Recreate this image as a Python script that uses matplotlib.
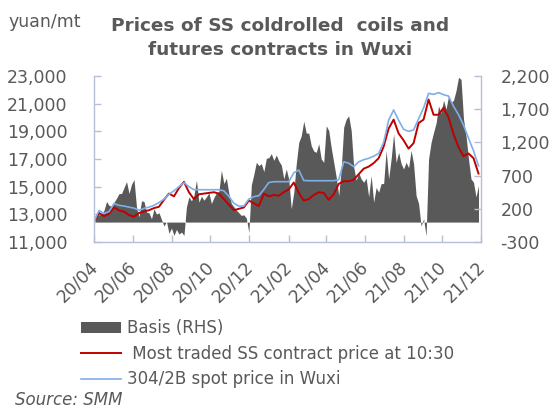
import matplotlib
matplotlib.use("Agg")
import matplotlib.pyplot as plt
import matplotlib.transforms as mtransforms
import pandas as pd

# readings taken from the reference chart
start_date = "2020-04-01"
end_date = "2021-11-27"

# prices, one reading every ~8 days (yuan/mt)
spot_price = [
    12500, 13280, 13060, 13200, 13780, 13650, 13600, 13520, 13450, 13300,
    13430, 13520, 13650, 13850, 14100, 14450, 14700, 15000, 15290, 15000,
    14780, 14780, 14780, 14780, 14780, 14780, 14700, 14300, 13800, 13600,
    13600, 14100, 14280, 14350, 14800, 15300, 15360, 15360, 15360, 15360,
    16000, 16200, 15450, 15430, 15430, 15430, 15430, 15430, 15430, 15500,
    16800, 16700, 16450, 16800, 16950, 17050, 17200, 17400, 18200, 19800,
    20550, 19800, 19150, 19000, 19100, 19900, 20700, 21750, 21670, 21800,
    21650, 21550, 20810, 20200, 19450, 18500, 17600, 16500,
]

futures_price = [
    12500, 13100, 12870, 13050, 13500, 13280, 13200, 12950, 12830, 13100,
    13200, 13300, 13450, 13550, 14050, 14500, 14300, 14900, 15350, 14600,
    14100, 14450, 14500, 14550, 14600, 14500, 14100, 13700, 13300, 13400,
    13500, 14000, 13800, 13600, 14500, 14300, 14400, 14350, 14600, 14800,
    15300, 14550, 14000, 14100, 14400, 14600, 14550, 14050, 14450, 15200,
    15400, 15400, 15500, 15900, 16300, 16450, 16700, 17060, 17900, 19200,
    19850, 18850, 18350, 17750, 18150, 19600, 19850, 21300, 20200, 20200,
    20700, 20000, 18800, 17850, 17200, 17400, 17060, 15950,
]

# basis, one reading every ~4 days (yuan/mt, RHS)
basis = [
    -50, 140, 110, 120, 180, 310, 250, 240, 300, 360,
    430, 430, 520, 610, 430, 570, 640, 220, 80, 320,
    310, 150, 140, 50, 200, 120, 140, 40, -60, 10,
    -170, -90, -200, -110, -180, -150, -200, 230, 380, 320,
    400, 630, 300, 390, 330, 380, 440, 280, 370, 440,
    460, 780, 580, 660, 430, 280, 230, 180, 140, 100,
    110, 60, -160, 560, 720, 900, 850, 880, 760, 960,
    970, 1030, 930, 1010, 920, 860, 650, 800, 640, 200,
    450, 880, 1200, 1300, 1520, 1340, 1340, 1150, 1070, 1050,
    1180, 950, 900, 1450, 1380, 1120, 900, 680, 400, 800,
    1430, 1550, 1600, 1380, 830, 630, 740, 650, 600, 660,
    380, 700, 300, 520, 450, 580, 580, 1080, 650, 950,
    1330, 900, 1050, 880, 800, 900, 820, 1080, 875, 400,
    280, -60, 50, -210, 950, 1200, 1350, 1490, 1750, 1640,
    1835, 1700, 1900, 1800, 1835, 1980, 2180, 2150, 1550, 1300,
    950, 650, 600, 380, 550,
]

tick_dates = ["2020-04-01", "2020-06-01", "2020-08-01", "2020-10-01",
              "2020-12-01", "2021-02-01", "2021-04-01", "2021-06-01",
              "2021-08-01", "2021-10-01", "2021-12-01"]
tick_labels = ["20/04", "20/06", "20/08", "20/10", "20/12", "21/02",
               "21/04", "21/06", "21/08", "21/10", "21/12"]

left_ticks = [11000, 13000, 15000, 17000, 19000, 21000, 23000]
right_ticks = [-300, 200, 700, 1200, 1700, 2200]

price_dates = pd.date_range(start_date, end_date, periods=len(spot_price))
basis_dates = pd.date_range(start_date, end_date, periods=len(basis))

text_grey = "#595959"
spine_col = "#B4C0D4"

fig = plt.figure(figsize=(5.6, 4.12), dpi=100)
rect = [0.168, 0.4126, 0.691, 0.4029]

# basis axes (behind) and price axes (front) share the same box
ax2 = fig.add_axes(rect)
ax = fig.add_axes(rect, sharex=ax2)
ax.patch.set_visible(False)

ax2.fill_between(basis_dates, 0, basis, color="#595959", linewidth=0,
                 label="Basis (RHS)")
ax.plot(price_dates, futures_price, color="#C00000", linewidth=1.4,
        label=" Most traded SS contract price at 10:30")
ax.plot(price_dates, spot_price, color="#7FAEE8", linewidth=1.2,
        label="304/2B spot price in Wuxi")

ax.set_ylim(11000, 23000)
ax.set_yticks(left_ticks)
ax.set_yticklabels([f"{v:,}" for v in left_ticks])

ax2.yaxis.tick_right()
ax2.set_ylim(-300, 2200)
ax2.set_yticks(right_ticks)
ax2.set_yticklabels([f"{v:,}" for v in right_ticks])

ax2.set_xlim(pd.Timestamp("2020-04-01"), pd.Timestamp("2021-12-01"))
ax2.set_xticks(pd.to_datetime(tick_dates))
ax2.tick_params(axis="x", labelbottom=False)
ax.tick_params(axis="x", bottom=False, labelbottom=False)

# date labels at 45 degrees, their end sitting just under each tick
lab_trans = mtransforms.blended_transform_factory(ax2.transData, ax2.transAxes)
lab_trans = lab_trans + mtransforms.ScaledTranslation(1 / 100, -22 / 100,
                                                      fig.dpi_scale_trans)
for d, lab in zip(pd.to_datetime(tick_dates), tick_labels):
    ax2.text(d, 0, lab, transform=lab_trans, rotation=45, rotation_mode="anchor",
             ha="right", va="center", fontsize=12.5, color=text_grey, clip_on=False)

for a in (ax, ax2):
    for s in a.spines.values():
        s.set_visible(False)
ax.spines["left"].set_visible(True)
ax2.spines["right"].set_visible(True)
ax2.spines["bottom"].set_visible(True)
for s in (ax.spines["left"], ax2.spines["right"], ax2.spines["bottom"]):
    s.set_color(spine_col)
    s.set_linewidth(1.0)

ax.tick_params(axis="y", colors=text_grey, labelsize=12.5, direction="in",
               length=5, width=1.0, color=spine_col, pad=19)
ax2.tick_params(axis="y", colors=text_grey, labelsize=12.5, direction="in",
                length=5, width=1.0, color=spine_col, pad=14)
ax2.tick_params(axis="x", direction="in", length=5, width=1.0, color=spine_col)

fig.text(0.016, 0.947, "yuan/mt", fontsize=12.5, color=text_grey, va="center")
fig.text(0.5, 0.908, "Prices of SS coldrolled  coils and\nfutures contracts in Wuxi",
         fontsize=13.3, fontweight="bold", color=text_grey, ha="center", va="center",
         linespacing=1.45)

h1, l1 = ax2.get_legend_handles_labels()
h2, l2 = ax.get_legend_handles_labels()
leg = fig.legend(h1 + h2, l1 + l2, loc="upper left", bbox_to_anchor=(0.13, 0.245),
                 frameon=False, fontsize=12, handlelength=2.4, handleheight=0.6,
                 handletextpad=0.35, labelspacing=0.45, borderpad=0)
for t in leg.get_texts():
    t.set_color(text_grey)

fig.text(0.027, 0.03, "Source: SMM", fontsize=12, style="italic", color=text_grey,
         va="center")

fig.savefig("out.png", dpi=100)
